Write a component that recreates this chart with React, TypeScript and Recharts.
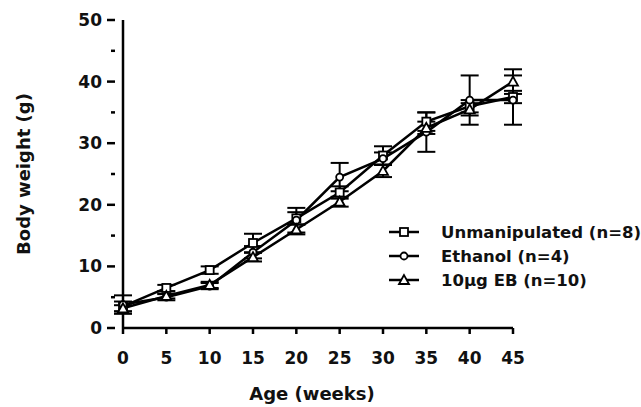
import { ErrorBar, Line, LineChart, XAxis, YAxis } from "recharts";

const weeks = [0, 5, 10, 15, 20, 25, 30, 35, 40, 45];
const unmanipulated = [3.5, 6.5, 9.4, 13.8, 17.8, 22, 28, 33.5, 36, 37.5];
const unmanipulatedErr = [0.8, 0.5, 0.6, 1.5, 1, 1, 1.5, 1.5, 1, 1];
const ethanol = [3.8, 5, 6.8, 12.3, 17.5, 24.5, 27.5, 31.8, 37, 37];
const ethanolErr = [1.5, 0.5, 0.5, 1, 2, 2.3, 1, 3.2, 4, 4];
const eb = [3.2, 5.2, 7, 11.5, 16, 20.5, 25.5, 32.5, 35.5, 40];
const ebErr = [0.5, 0.4, 0.5, 0.7, 0.8, 0.8, 1, 1, 1, 2];
const xTicks = [0, 5, 10, 15, 20, 25, 30, 35, 40, 45];
const yTicks = [0, 5, 10, 15, 20, 25, 30, 35, 40, 45, 50];

const data = weeks.map((w, i) => ({
  week: w,
  unmanipulated: unmanipulated[i],
  unmanipulatedErr: unmanipulatedErr[i],
  ethanol: ethanol[i],
  ethanolErr: ethanolErr[i],
  eb: eb[i],
  ebErr: ebErr[i],
}));

const FONT = "'DejaVu Sans', sans-serif";

const Square = (props: any) => {
  const { cx, cy } = props;
  if (cx == null || cy == null) return null;
  return <rect x={cx - 4} y={cy - 4} width={8} height={8} fill="#fff" stroke="#000" strokeWidth={1.8} />;
};
const Circle = (props: any) => {
  const { cx, cy } = props;
  if (cx == null || cy == null) return null;
  return <circle cx={cx} cy={cy} r={3.5} fill="#fff" stroke="#000" strokeWidth={1.8} />;
};
const Triangle = (props: any) => {
  const { cx, cy } = props;
  if (cx == null || cy == null) return null;
  return (
    <polygon
      points={`${cx},${cy - 5} ${cx - 5},${cy + 4} ${cx + 5},${cy + 4}`}
      fill="#fff"
      stroke="#000"
      strokeWidth={1.8}
    />
  );
};

const YTick = (props: any) => {
  const { x, y, payload } = props;
  const major = payload.value % 10 === 0;
  return (
    <g>
      <line x1={x} x2={x - (major ? 8 : 4)} y1={y} y2={y} stroke="#000" strokeWidth={2.5} />
      {major && (
        <text x={x - 13} y={y} dy={6} textAnchor="end" fontFamily={FONT} fontSize={17} fontWeight="bold" fill="#111">
          {payload.value}
        </text>
      )}
    </g>
  );
};

const XTick = (props: any) => {
  const { x, y, payload } = props;
  return (
    <g>
      <line x1={x} x2={x} y1={y - 8} y2={y - 2} stroke="#000" strokeWidth={2.5} />
      <text x={x} y={y + 28} textAnchor="middle" fontFamily={FONT} fontSize={17} fontWeight="bold" fill="#111">
        {payload.value}
      </text>
    </g>
  );
};

const legendItems = [
  { label: "Unmanipulated (n=8)", Shape: Square },
  { label: "Ethanol (n=4)", Shape: Circle },
  { label: "10\u00b5g EB (n=10)", Shape: Triangle },
];

export default function App() {
  return (
    <div style={{ position: "absolute", left: 0, top: 0, background: "#fff" }}>
      <LineChart width={641} height={407} data={data} margin={{ top: 20, right: 128, bottom: 29, left: 0 }}>
        <XAxis
          dataKey="week"
          type="number"
          domain={[0, 45]}
          ticks={xTicks}
          height={50}
          axisLine={{ stroke: "#000", strokeWidth: 2.5 }}
          tickLine={false}
          tick={<XTick />}
          label={{ value: "Age (weeks)", position: "insideBottom", offset: -22, fontFamily: FONT, fontSize: 18, fontWeight: "bold", fill: "#111", dx: -6 }}
        />
        <YAxis
          type="number"
          domain={[0, 50]}
          ticks={yTicks}
          width={123}
          axisLine={{ stroke: "#000", strokeWidth: 2.5 }}
          tickLine={false}
          tick={<YTick />}
          label={{ value: "Body weight (g)", angle: -90, position: "insideLeft", offset: 24, fontFamily: FONT, fontSize: 18, fontWeight: "bold", fill: "#111", style: { textAnchor: "middle" } }}
        />
        <Line dataKey="unmanipulated" stroke="#000" strokeWidth={2.5} dot={<Square />} isAnimationActive={false}>
          <ErrorBar dataKey="unmanipulatedErr" width={9} stroke="#000" strokeWidth={2} />
        </Line>
        <Line dataKey="ethanol" stroke="#000" strokeWidth={2.5} dot={<Circle />} isAnimationActive={false}>
          <ErrorBar dataKey="ethanolErr" width={9} stroke="#000" strokeWidth={2} />
        </Line>
        <Line dataKey="eb" stroke="#000" strokeWidth={2.5} dot={<Triangle />} isAnimationActive={false}>
          <ErrorBar dataKey="ebErr" width={9} stroke="#000" strokeWidth={2} />
        </Line>
      </LineChart>
      <div style={{ position: "absolute", left: 389, top: 220 }}>
        {legendItems.map(({ label, Shape }) => (
          <div key={label} style={{ display: "flex", alignItems: "center", height: 24 }}>
            <svg width={30} height={14}>
              <line x1={0} x2={30} y1={7} y2={7} stroke="#000" strokeWidth={2.5} />
              <Shape cx={15} cy={7} />
            </svg>
            <span style={{ marginLeft: 22, fontFamily: FONT, fontSize: 16.5, fontWeight: "bold", color: "#111", whiteSpace: "nowrap" }}>
              {label}
            </span>
          </div>
        ))}
      </div>
    </div>
  );
}
